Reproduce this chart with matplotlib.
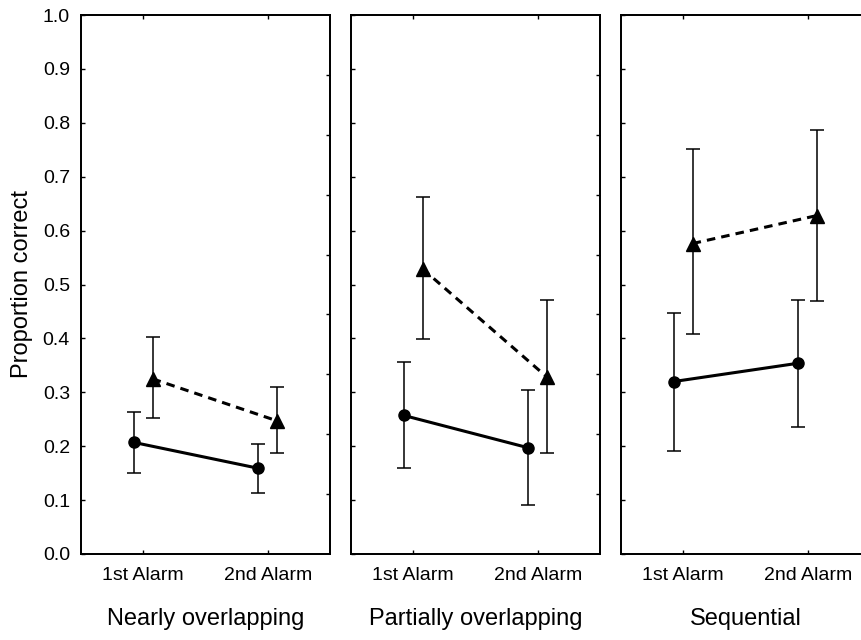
import matplotlib
matplotlib.use("Agg")
import matplotlib.pyplot as plt
import numpy as np

plt.rcParams['font.family'] = ['Liberation Sans', 'DejaVu Sans']

conditions = ["Nearly overlapping", "Partially overlapping", "Sequential"]
alarms = ["1st Alarm", "2nd Alarm"]

# circle series (solid line)
circle_mean = [[0.207, 0.159], [0.257, 0.197], [0.320, 0.354]]
circle_low = [[0.151, 0.114], [0.159, 0.091], [0.192, 0.236]]
circle_high = [[0.263, 0.204], [0.356, 0.304], [0.448, 0.471]]

# triangle series (dashed line)
tri_mean = [[0.325, 0.247], [0.529, 0.328], [0.576, 0.628]]
tri_low = [[0.252, 0.188], [0.399, 0.187], [0.409, 0.469]]
tri_high = [[0.402, 0.309], [0.663, 0.471], [0.751, 0.786]]

y_ticks = [0.0, 0.1, 0.2, 0.3, 0.4, 0.5, 0.6, 0.7, 0.8, 0.9, 1.0]

W, H = 861, 640
fig = plt.figure(figsize=(W / 100, H / 100), dpi=100)

lefts = [81, 351, 621]
pw = 249
bottom_px, top_px = 554, 15
offset = 0.075

for i, cond in enumerate(conditions):
    ax = fig.add_axes([lefts[i] / W, 1 - bottom_px / H, pw / W, (bottom_px - top_px) / H])
    x = np.arange(len(alarms))
    cm = np.array(circle_mean[i]); cl = np.array(circle_low[i]); ch = np.array(circle_high[i])
    tm = np.array(tri_mean[i]); tl = np.array(tri_low[i]); th = np.array(tri_high[i])
    ax.errorbar(x - offset, cm, yerr=[cm - cl, ch - cm], fmt='none', ecolor='black',
                elinewidth=1.1, capsize=4.7, capthick=1.1, zorder=2)
    ax.errorbar(x + offset, tm, yerr=[tm - tl, th - tm], fmt='none', ecolor='black',
                elinewidth=1.1, capsize=4.7, capthick=1.1, zorder=2)
    ax.plot(x - offset, cm, color='black', linestyle='-', linewidth=2.2,
            marker='o', markersize=8, zorder=3)
    ax.plot(x + offset, tm, color='black', linestyle=(0, (2.8, 2.0)), linewidth=2.2,
            marker='^', markersize=10, zorder=3)
    ax.set_xlim(-0.5, 1.5)
    ax.set_ylim(0, 1)
    ax.set_xticks(x)
    ax.set_xticklabels(alarms, fontsize=14)
    ax.set_yticks(y_ticks)
    if i == 0:
        ax.set_yticklabels([f"{v:.1f}" for v in y_ticks], fontsize=14)
        ax.set_ylabel("Proportion correct", fontsize=17, labelpad=7)
    else:
        ax.set_yticklabels([])
    ax.tick_params(axis='both', direction='in', length=3, width=1, top=True, color='black')
    ax.tick_params(axis='x', pad=9)
    ax.tick_params(axis='y', pad=8)
    ax.set_xlabel(cond, fontsize=17, labelpad=18)
    for s in ax.spines.values():
        s.set_linewidth(1.3)
    ax2 = ax.twinx()
    ax2.set_ylim(0, 1)
    ax2.set_yticks(np.linspace(0, 1, 10)[1:-1])
    ax2.set_yticklabels([])
    ax2.tick_params(axis='y', direction='in', length=3, width=1)
    for s in ax2.spines.values():
        s.set_linewidth(1.3)

fig.savefig("out.png", dpi=100)
